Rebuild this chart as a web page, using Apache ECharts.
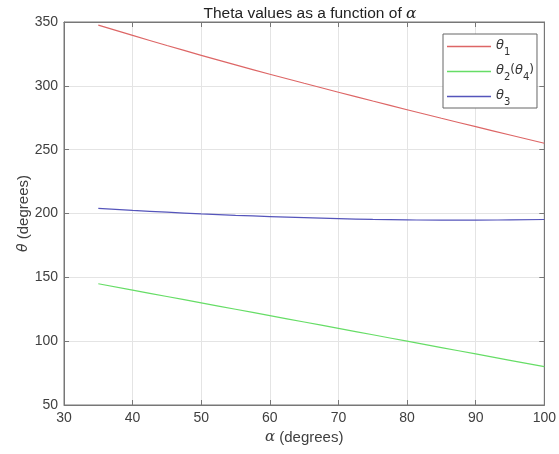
<!DOCTYPE html>
<html>
<head>
<meta charset="utf-8">
<script src="https://cdn.jsdelivr.net/npm/echarts@6/dist/echarts.min.js"></script>
<style>
  html, body { margin: 0; padding: 0; background: #fff; }
  #main { width: 559px; height: 454px; }
</style>
</head>
<body>
<div id="main"></div>
<script>
// values
var alpha = [35, 40, 45, 50, 55, 60, 65, 70, 75, 80, 85, 90, 95, 100];
var theta1 = [347.5, 339.5, 331.6, 323.9, 316.4, 309.1, 302, 295, 288.1, 281.3, 274.6, 268, 261.5, 255];
var theta2 = [145, 140, 135, 130, 125, 120, 115, 110, 105, 100, 95, 90, 85, 80];
var theta3 = [204, 202.4, 201, 199.7, 198.6, 197.6, 196.7, 196, 195.4, 195, 194.8, 194.8, 195, 195.3];

var xTicks = [30, 100, 10];
var yTicks = [50, 350, 50];

function pairs(ys) {
    return alpha.map(function (a, i) { return [a, ys[i]]; });
}

var font = 'Liberation Sans, Arial, sans-serif';
var txt = '#404040';

var dom = document.getElementById('main');
var myChart = echarts.init(dom);

var option = {
    animation: false,
    backgroundColor: '#fff',
    title: {
        text: 'Theta values as a function of {a|α}',
        left: 305,
        textAlign: 'center',
        top: 1,
        textStyle: {
            fontFamily: font, fontSize: 15.5, fontWeight: 'normal', color: '#222',
            rich: { a: { fontFamily: 'DejaVu Serif', fontStyle: 'italic', fontSize: 15.5, color: '#222' } }
        }
    },
    grid: { left: 64, right: 13, top: 22, bottom: 49, show: true, borderColor: '#777', borderWidth: 1 },
    legend: {
        orient: 'vertical',
        left: 443, top: 34,
        padding: [5, 3, 1, 4],
        icon: 'rect',
        itemWidth: 44, itemHeight: 1.5, itemGap: 7,
        borderColor: '#666', borderWidth: 1,
        backgroundColor: '#fff',
        textStyle: {
            fontFamily: 'DejaVu Sans', fontSize: 13, color: '#333',
            rich: {
                t: { fontFamily: 'DejaVu Sans', fontStyle: 'italic', fontSize: 13, color: '#333', verticalAlign: 'top', lineHeight: 15 },
                s: { fontFamily: 'DejaVu Sans', fontSize: 10, color: '#333', verticalAlign: 'top', padding: [8, 0, 0, 0], lineHeight: 10 },
                p: { fontFamily: 'DejaVu Sans', fontSize: 12, color: '#333', verticalAlign: 'top', lineHeight: 15 }
            }
        },
        formatter: function (name) {
            if (name === 'theta1') return '{t|θ}{s|1}';
            if (name === 'theta2') return '{t|θ}{s|2}{p|(}{t|θ}{s|4}{p|)}';
            return '{t|θ}{s|3}';
        },
        data: ['theta1', 'theta2', 'theta3']
    },
    xAxis: [{
        type: 'value',
        min: xTicks[0], max: xTicks[1], interval: xTicks[2],
        name: '{a|α} (degrees)',
        nameLocation: 'middle',
        nameGap: 22,
        nameTextStyle: {
            fontFamily: font, fontSize: 15, color: txt,
            rich: { a: { fontFamily: 'DejaVu Serif', fontStyle: 'italic', fontSize: 15, color: txt } }
        },
        axisLine: { lineStyle: { color: '#777' } },
        axisTick: { inside: true, length: 5, lineStyle: { color: '#777' } },
        axisLabel: { fontFamily: font, fontSize: 14, color: txt, margin: 6 },
        splitLine: { show: true, lineStyle: { color: '#e4e4e4' } }
    }, {
        type: 'value', position: 'top',
        min: xTicks[0], max: xTicks[1], interval: xTicks[2],
        axisLine: { lineStyle: { color: '#777' } },
        axisTick: { inside: true, length: 5, lineStyle: { color: '#777' } },
        axisLabel: { show: false },
        splitLine: { show: false }
    }],
    yAxis: [{
        type: 'value',
        min: yTicks[0], max: yTicks[1], interval: yTicks[2],
        name: '{a|θ} (degrees)',
        nameLocation: 'middle',
        nameGap: 33,
        nameMoveOverlap: false,
        nameRotate: 90,
        nameTextStyle: {
            fontFamily: font, fontSize: 15, color: txt,
            rich: { a: { fontFamily: 'DejaVu Sans', fontStyle: 'italic', fontSize: 14, color: txt } }
        },
        axisLine: { show: true, lineStyle: { color: '#777' } },
        axisTick: { show: true, inside: true, length: 5, lineStyle: { color: '#777' } },
        axisLabel: { fontFamily: font, fontSize: 14, color: txt, margin: 6 },
        splitLine: { show: true, lineStyle: { color: '#e4e4e4' } }
    }, {
        type: 'value', position: 'right',
        min: yTicks[0], max: yTicks[1], interval: yTicks[2],
        axisLine: { show: true, lineStyle: { color: '#777' } },
        axisTick: { show: true, inside: true, length: 5, lineStyle: { color: '#777' } },
        axisLabel: { show: false },
        splitLine: { show: false }
    }],
    series: [
        { name: 'theta1', type: 'line', symbol: 'none', smooth: true, data: pairs(theta1),
          itemStyle: { color: '#dd6666' }, lineStyle: { color: '#dd6666', width: 1.2 } },
        { name: 'theta2', type: 'line', symbol: 'none', smooth: true, data: pairs(theta2),
          itemStyle: { color: '#66dd66' }, lineStyle: { color: '#66dd66', width: 1.2 } },
        { name: 'theta3', type: 'line', symbol: 'none', smooth: true, data: pairs(theta3),
          itemStyle: { color: '#5555bb' }, lineStyle: { color: '#5555bb', width: 1.2 } }
    ]
};

myChart.setOption(option);
</script>
</body>
</html>
